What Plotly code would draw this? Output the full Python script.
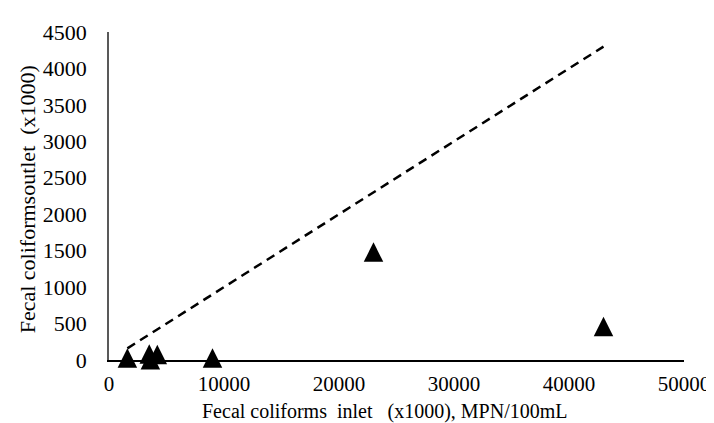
import plotly.graph_objects as go

# Data
inlet = [1600, 3500, 3600, 4200, 9000, 23000, 43000]
outlet = [27, 83, 2, 75, 27, 1480, 460]

# Dashed reference line (outlet = 10% of inlet)
line_x = [1600, 43000]
line_y = [160, 4300]

x_ticks = [0, 10000, 20000, 30000, 40000, 50000]
y_ticks = [0, 500, 1000, 1500, 2000, 2500, 3000, 3500, 4000, 4500]

FONT = "Liberation Serif, Times New Roman, serif"

fig = go.Figure()
fig.add_trace(go.Scatter(
    x=line_x, y=line_y, mode="lines",
    line=dict(color="black", width=2.5, dash="9px,6px"),
    showlegend=False, hoverinfo="skip"))
fig.add_trace(go.Scatter(
    x=inlet, y=outlet, mode="markers",
    marker=dict(symbol="arrow-down", angle=180, standoff=9.75, size=19.5,
                color="black", line=dict(width=0)),
    cliponaxis=False, showlegend=False))

fig.update_layout(
    width=714, height=423,
    margin=dict(l=101, r=32, t=21, b=71),
    paper_bgcolor="white", plot_bgcolor="white",
    font=dict(family=FONT, size=22, color="black"),
    xaxis=dict(range=[0, 50000], tickvals=x_ticks, ticktext=[str(v) for v in x_ticks],
               showgrid=False, zeroline=False, showline=True, linecolor="black",
               linewidth=1.5, ticks="", ticklabelstandoff=4,
               tickfont=dict(family=FONT, size=21)),
    yaxis=dict(range=[0, 4500], tickvals=y_ticks, ticktext=[str(v) for v in y_ticks],
               showgrid=False, zeroline=False, showline=True, linecolor="#595959",
               linewidth=1.5, ticks="", ticklabelstandoff=16,
               tickfont=dict(family=FONT, size=22)),
    annotations=[
        dict(text="Fecal coliforms\u00a0 inlet\u00a0\u00a0 (x1000), MPN/100mL",
             xref="paper", yref="paper", x=(380 - 101) / 581, y=(352 - 417) / 331,
             showarrow=False, xanchor="center", yanchor="bottom", borderpad=0,
             font=dict(family=FONT, size=20)),
        dict(text="Fecal coliformsoutlet\u00a0 (x1000)",
             xref="paper", yref="paper", x=(19 - 101) / 581, y=(352 - 190) / 331,
             showarrow=False, textangle=-90, xanchor="center", yanchor="middle",
             font=dict(family=FONT, size=22)),
    ],
)

fig.write_html("out.html")
